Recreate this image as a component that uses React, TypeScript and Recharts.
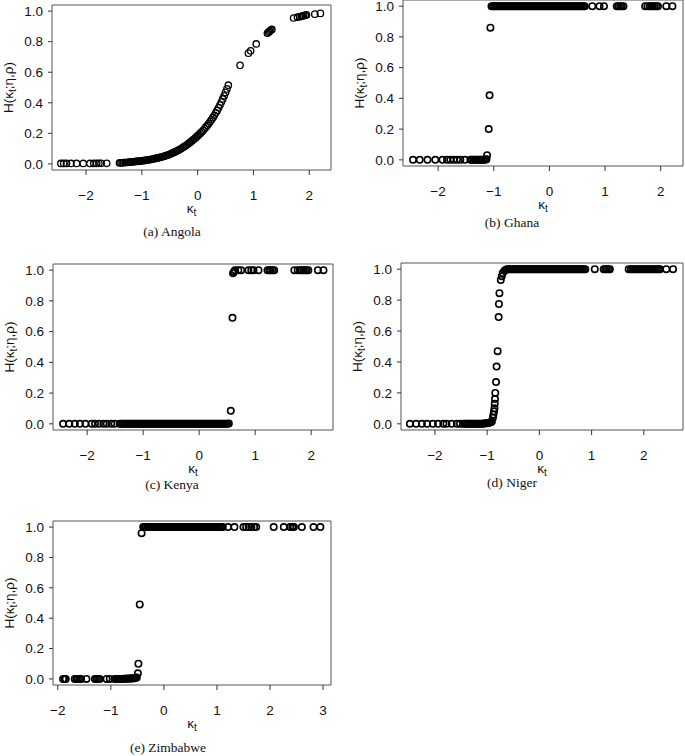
import { ScatterChart, Scatter, XAxis, YAxis, ReferenceArea } from "recharts";

// kappa_t (x) and H(kappa_t; eta, rho) (y) for each country.
// Each K line has a matching H line with the same number of values.

const angolaK = [
  -2.45, -2.4, -2.35, -2.27, -2.17, -2.05, -1.93, -1.86, -1.81, -1.77, -1.73, -1.63,
  -1.4, -1.375, -1.35, -1.325, -1.3, -1.275, -1.25, -1.225, -1.2, -1.175,
  -1.15, -1.125, -1.1, -1.075, -1.05, -1.025, -1.0, -0.975, -0.95, -0.925,
  -0.9, -0.875, -0.85, -0.825, -0.8, -0.775, -0.75, -0.725, -0.7, -0.675,
  -0.65, -0.625, -0.6, -0.575, -0.55, -0.525, -0.5, -0.475, -0.45, -0.425,
  -0.4, -0.375, -0.35, -0.325, -0.3, -0.275, -0.25, -0.225, -0.2, -0.175,
  -0.15, -0.125, -0.1, -0.075, -0.05, -0.025, 0, 0.025, 0.05, 0.075,
  0.1, 0.125, 0.15, 0.175, 0.2, 0.225, 0.25, 0.275, 0.3, 0.325,
  0.35, 0.375, 0.4, 0.425, 0.45, 0.475, 0.5, 0.525, 0.55,
  0.76, 0.91, 0.95, 1.05, 1.25, 1.27, 1.29, 1.31, 1.33,
  1.72, 1.79, 1.83, 1.86, 1.88, 1.9, 1.93, 1.95, 2.1, 2.2,
];
const angolaH = [
  0.003, 0.003, 0.003, 0.003, 0.003, 0.003, 0.003, 0.003, 0.004, 0.004, 0.004, 0.004,
  0.006, 0.007, 0.007, 0.008, 0.009, 0.009, 0.01, 0.011, 0.012, 0.013,
  0.014, 0.015, 0.016, 0.017, 0.018, 0.019, 0.02, 0.021, 0.022, 0.024,
  0.025, 0.027, 0.028, 0.03, 0.032, 0.034, 0.036, 0.038, 0.04, 0.042,
  0.045, 0.047, 0.05, 0.053, 0.056, 0.059, 0.063, 0.067, 0.071, 0.075,
  0.079, 0.084, 0.089, 0.094, 0.099, 0.105, 0.111, 0.117, 0.123, 0.13,
  0.137, 0.144, 0.152, 0.159, 0.167, 0.175, 0.183, 0.192, 0.201, 0.21,
  0.22, 0.231, 0.242, 0.253, 0.264, 0.277, 0.29, 0.304, 0.318, 0.334,
  0.35, 0.367, 0.385, 0.405, 0.425, 0.446, 0.468, 0.491, 0.515,
  0.645, 0.725, 0.74, 0.785, 0.855, 0.862, 0.868, 0.874, 0.88,
  0.955, 0.96, 0.963, 0.966, 0.968, 0.97, 0.973, 0.975, 0.98, 0.985,
];

const ghanaK = [
  -2.45, -2.33, -2.19, -2.05, -1.92, -1.84, -1.78, -1.72, -1.66, -1.6, -1.52,
  -1.42, -1.395, -1.37, -1.345, -1.32, -1.295, -1.27, -1.245, -1.22, -1.195, -1.17, -1.145, -1.13,
  -1.12, -1.09, -1.075, -1.06,
  -1.04, -1.015, -0.99, -0.965, -0.94, -0.915, -0.89, -0.865, -0.84, -0.815, -0.79, -0.765, -0.74, -0.715, -0.69, -0.665, -0.64,
  -0.615, -0.59, -0.565, -0.54, -0.515, -0.49, -0.465, -0.44, -0.415, -0.39, -0.365, -0.34, -0.315, -0.29, -0.265, -0.24, -0.215,
  -0.19, -0.165, -0.14, -0.115, -0.09, -0.065, -0.04, -0.015, 0.01, 0.035, 0.06, 0.085, 0.11, 0.135, 0.16, 0.185, 0.21,
  0.235, 0.26, 0.285, 0.31, 0.335, 0.36, 0.385, 0.41, 0.435, 0.46, 0.485, 0.51, 0.535, 0.56, 0.585, 0.61, 0.635,
  0.77, 0.9, 0.98, 1.21, 1.24, 1.27, 1.3, 1.33,
  1.72, 1.76, 1.8, 1.83, 1.86, 1.89, 1.92, 1.95, 2.1, 2.21,
];
const ghanaH = [
  0, 0, 0, 0, 0, 0, 0, 0, 0, 0, 0,
  0, 0, 0, 0, 0, 0, 0, 0, 0, 0, 0, 0.002, 0.004,
  0.03, 0.2, 0.42, 0.86,
  1, 1, 1, 1, 1, 1, 1, 1, 1, 1, 1, 1, 1, 1, 1, 1, 1,
  1, 1, 1, 1, 1, 1, 1, 1, 1, 1, 1, 1, 1, 1, 1, 1, 1,
  1, 1, 1, 1, 1, 1, 1, 1, 1, 1, 1, 1, 1, 1, 1, 1, 1,
  1, 1, 1, 1, 1, 1, 1, 1, 1, 1, 1, 1, 1, 1, 1, 1, 1,
  1, 1, 1, 1, 1, 1, 1, 1,
  1, 1, 1, 1, 1, 1, 1, 1, 1, 1,
];

const kenyaK = [
  -2.43, -2.32, -2.22, -2.13, -2.03, -1.92, -1.86, -1.79, -1.71, -1.65, -1.57, -1.51,
  -1.42, -1.395, -1.37, -1.345, -1.32, -1.295, -1.27, -1.245, -1.22, -1.195, -1.17, -1.145, -1.12, -1.095, -1.07, -1.045, -1.02, -0.995, -0.97, -0.945,
  -0.92, -0.895, -0.87, -0.845, -0.82, -0.795, -0.77, -0.745, -0.72, -0.695, -0.67, -0.645, -0.62, -0.595, -0.57, -0.545, -0.52, -0.495, -0.47, -0.445,
  -0.42, -0.395, -0.37, -0.345, -0.32, -0.295, -0.27, -0.245, -0.22, -0.195, -0.17, -0.145, -0.12, -0.095, -0.07, -0.045, -0.02, 0.005, 0.03, 0.055,
  0.08, 0.105, 0.13, 0.155, 0.18, 0.205, 0.23, 0.255, 0.28, 0.305, 0.33, 0.355, 0.38, 0.405, 0.43, 0.455, 0.48, 0.505, 0.53,
  0.565, 0.595, 0.605, 0.62,
  0.64, 0.7, 0.75, 0.88, 0.93, 0.97, 1.06, 1.22, 1.25, 1.28, 1.31, 1.34,
  1.7, 1.76, 1.8, 1.83, 1.86, 1.89, 1.92, 1.95, 2.12, 2.22,
];
const kenyaH = [
  0, 0, 0, 0, 0, 0, 0, 0, 0, 0, 0, 0,
  0, 0, 0, 0, 0, 0, 0, 0, 0, 0, 0, 0, 0, 0, 0, 0, 0, 0, 0, 0,
  0, 0, 0, 0, 0, 0, 0, 0, 0, 0, 0, 0, 0, 0, 0, 0, 0, 0, 0, 0,
  0, 0, 0, 0, 0, 0, 0, 0, 0, 0, 0, 0, 0, 0, 0, 0, 0, 0, 0, 0,
  0, 0, 0, 0, 0, 0, 0, 0, 0, 0, 0, 0, 0, 0, 0, 0, 0, 0.001, 0.002,
  0.085, 0.69, 0.98, 0.99,
  1, 1, 1, 1, 1, 1, 1, 1, 1, 1, 1, 1,
  1, 1, 1, 1, 1, 1, 1, 1, 1, 1,
];

const nigerK = [
  -2.48, -2.36, -2.25, -2.15, -2.04, -1.94, -1.84, -1.78, -1.68, -1.58, -1.52,
  -1.46, -1.435, -1.41, -1.385, -1.36, -1.335, -1.31, -1.285, -1.26, -1.235, -1.21, -1.185, -1.16, -1.135, -1.11,
  -1.085, -1.06, -1.035, -1.01, -0.985, -0.96, -0.935,
  -0.91, -0.89, -0.88, -0.87, -0.86, -0.855, -0.85, -0.845, -0.83, -0.82,
  -0.8, -0.78, -0.775, -0.765, -0.74, -0.72, -0.7, -0.67, -0.64,
  -0.62, -0.595, -0.57, -0.545, -0.52, -0.495, -0.47, -0.445, -0.42, -0.395, -0.37, -0.345, -0.32, -0.295, -0.27, -0.245,
  -0.22, -0.195, -0.17, -0.145, -0.12, -0.095, -0.07, -0.045, -0.02, 0.005, 0.03, 0.055, 0.08, 0.105, 0.13, 0.155,
  0.18, 0.205, 0.23, 0.255, 0.28, 0.305, 0.33, 0.355, 0.38, 0.405, 0.43, 0.455, 0.48, 0.505, 0.53, 0.555,
  0.58, 0.605, 0.63, 0.655, 0.68, 0.705, 0.73, 0.755, 0.78, 0.805, 0.83, 0.855, 0.88,
  1.06, 1.23, 1.26, 1.29, 1.32, 1.35,
  1.71, 1.75, 1.78, 1.81, 1.84, 1.87, 1.9, 1.93, 1.96, 1.99, 2.02,
  2.05, 2.08, 2.11, 2.14, 2.17, 2.2, 2.23, 2.26, 2.29, 2.31, 2.43, 2.56,
];
const nigerH = [
  0, 0, 0, 0, 0, 0, 0, 0, 0, 0, 0,
  0, 0, 0, 0, 0, 0, 0, 0, 0, 0, 0, 0, 0, 0, 0,
  0.001, 0.002, 0.003, 0.004, 0.005, 0.007, 0.01,
  0.015, 0.04, 0.06, 0.08, 0.1, 0.13, 0.16, 0.2, 0.27, 0.37,
  0.47, 0.69, 0.775, 0.845, 0.93, 0.955, 0.975, 0.99, 0.997,
  1, 1, 1, 1, 1, 1, 1, 1, 1, 1, 1, 1, 1, 1, 1, 1,
  1, 1, 1, 1, 1, 1, 1, 1, 1, 1, 1, 1, 1, 1, 1, 1,
  1, 1, 1, 1, 1, 1, 1, 1, 1, 1, 1, 1, 1, 1, 1, 1,
  1, 1, 1, 1, 1, 1, 1, 1, 1, 1, 1, 1, 1,
  1, 1, 1, 1, 1, 1,
  1, 1, 1, 1, 1, 1, 1, 1, 1, 1, 1,
  1, 1, 1, 1, 1, 1, 1, 1, 1, 1, 1, 1, 1,
];

const zimbabweK = [
  -1.9, -1.87, -1.85, -1.68, -1.65, -1.62, -1.59, -1.56, -1.46, -1.3, -1.27, -1.24, -1.21, -1.08, -1.02,
  -0.93, -0.905, -0.88, -0.855, -0.83, -0.805, -0.78, -0.755, -0.73, -0.705, -0.68, -0.655, -0.63, -0.605, -0.58, -0.555, -0.53,
  -0.51, -0.49, -0.48, -0.455, -0.42,
  -0.39, -0.365, -0.34, -0.315, -0.29, -0.265, -0.24, -0.215, -0.19, -0.165, -0.14, -0.115, -0.09, -0.065, -0.04, -0.015,
  0.01, 0.035, 0.06, 0.085, 0.11, 0.135, 0.16, 0.185, 0.21, 0.235, 0.26, 0.285, 0.31, 0.335, 0.36, 0.385,
  0.41, 0.435, 0.46, 0.485, 0.51, 0.535, 0.56, 0.585, 0.61, 0.635, 0.66, 0.685, 0.71, 0.735, 0.76, 0.785,
  0.81, 0.835, 0.86, 0.885, 0.91, 0.935, 0.96, 0.985, 1.01, 1.035, 1.06, 1.085, 1.11,
  1.21, 1.33, 1.5, 1.55, 1.6, 1.65, 1.7, 1.74,
  2.07, 2.26, 2.38, 2.42, 2.45, 2.6, 2.82, 2.95,
];
const zimbabweH = [
  0, 0, 0, 0, 0, 0, 0, 0, 0, 0, 0, 0, 0, 0, 0,
  0, 0, 0, 0, 0, 0, 0, 0.001, 0.001, 0.001, 0.002, 0.002, 0.003, 0.003, 0.004, 0.005, 0.007,
  0.01, 0.037, 0.1, 0.49, 0.96,
  1, 1, 1, 1, 1, 1, 1, 1, 1, 1, 1, 1, 1, 1, 1, 1,
  1, 1, 1, 1, 1, 1, 1, 1, 1, 1, 1, 1, 1, 1, 1, 1,
  1, 1, 1, 1, 1, 1, 1, 1, 1, 1, 1, 1, 1, 1, 1, 1,
  1, 1, 1, 1, 1, 1, 1, 1, 1, 1, 1, 1, 1,
  1, 1, 1, 1, 1, 1, 1, 1,
  1, 1, 1, 1, 1, 1, 1, 1,
];

const yTicks = [0, 0.2, 0.4, 0.6, 0.8, 1];
const xTicks = [-2, -1, 0, 1, 2];
const xTicksZim = [-2, -1, 0, 1, 2, 3];

const SANS = "'Liberation Sans', Arial, Helvetica, sans-serif";
const SERIF = "'Liberation Serif', 'Times New Roman', serif";
const FS = 13.5;

const panels = [
  { id: "a", caption: "(a) Angola", k: angolaK, h: angolaH, box: [52, 5, 331, 170], xDomain: [-2.61, 2.39], ticks: xTicks, lw: 1.3, capX: 172, capY: 232 },
  { id: "b", caption: "(b) Ghana", k: ghanaK, h: ghanaH, box: [403, 0, 683, 166], xDomain: [-2.63, 2.4], ticks: xTicks, lw: 1.6, capX: 512, capY: 223 },
  { id: "c", caption: "(c) Kenya", k: kenyaK, h: kenyaH, box: [53, 264, 333, 430], xDomain: [-2.61, 2.39], ticks: xTicks, lw: 1.6, capX: 172, capY: 485 },
  { id: "d", caption: "(d) Niger", k: nigerK, h: nigerH, box: [401, 263, 683, 430], xDomain: [-2.65, 2.75], ticks: xTicks, lw: 1.6, capX: 512, capY: 483 },
  { id: "e", caption: "(e) Zimbabwe", k: zimbabweK, h: zimbabweH, box: [53, 521, 331, 685], xDomain: [-2.09, 3.15], ticks: xTicksZim, lw: 1.6, capX: 168, capY: 748 },
];

const fmtX = (v: number) => (v < 0 ? "\u2212" + Math.abs(v) : String(v));
const fmtY = (v: number) => v.toFixed(1);

// axis titles with a subscript t, placed from the axis viewBox
function XTitle({ viewBox }: any) {
  const { x, y, width } = viewBox;
  return (
    <text x={x + width / 2} y={y + 43} textAnchor="middle" fontFamily={SANS} fontSize={FS} fill="#111">
      κ<tspan dy={3} fontSize={10}>t</tspan>
    </text>
  );
}

function YTitle({ viewBox }: any) {
  const { x, y, width, height } = viewBox;
  const cx = x + width - 39;
  const cy = y + height / 2;
  return (
    <text transform={`translate(${cx},${cy}) rotate(-90)`} textAnchor="middle" fontFamily={SANS} fontSize={FS} fill="#111">
      H(κ<tspan dy={3} fontSize={10}>t</tspan>
      <tspan dy={-3}>;η,ρ)</tspan>
    </text>
  );
}

function Panel({ p }: { p: (typeof panels)[number] }) {
  const [L, T, R, B] = p.box;
  const yw = 62;
  const xh = 54;
  const mt = 6;
  const data = p.k.map((k, i) => ({ k, h: p.h[i] })).filter((d) => d.h !== undefined);
  return (
    <>
      <div style={{ position: "absolute", left: L - yw, top: T - mt }}>
        <ScatterChart width={R - L + yw + 3} height={B - T + mt + xh} margin={{ top: mt, right: 3, bottom: 0, left: 0 }}>
          <XAxis
            type="number"
            dataKey="k"
            domain={p.xDomain}
            ticks={p.ticks}
            interval={0}
            allowDataOverflow
            tickFormatter={fmtX}
            axisLine={false}
            tickLine={{ stroke: "#333" }}
            tickSize={5}
            tickMargin={15}
            height={xh}
            tick={{ fontFamily: SANS, fontSize: FS, fill: "#111" }}
            label={<XTitle />}
          />
          <YAxis
            type="number"
            dataKey="h"
            domain={[-0.04, 1.04]}
            ticks={yTicks}
            interval={0}
            allowDataOverflow
            tickFormatter={fmtY}
            axisLine={false}
            tickLine={{ stroke: "#333" }}
            tickSize={4}
            tickMargin={5}
            width={yw}
            tick={{ fontFamily: SANS, fontSize: FS, fill: "#111" }}
            label={<YTitle />}
          />
          <ReferenceArea x1={p.xDomain[0]} x2={p.xDomain[1]} y1={-0.04} y2={1.04} fill="none" stroke="#555" strokeWidth={1} fillOpacity={0} />
          <Scatter
            data={data}
            isAnimationActive={false}
            shape={(s: any) => <circle cx={s.cx} cy={s.cy} r={3.2} fill="none" stroke="#000" strokeWidth={p.lw} />}
          />
        </ScatterChart>
      </div>
      <div
        style={{
          position: "absolute",
          left: p.capX - 100,
          top: p.capY - 7,
          width: 200,
          textAlign: "center",
          fontFamily: SERIF,
          fontSize: 13.5,
          lineHeight: "14px",
          color: "#111",
        }}
      >
        {p.caption}
      </div>
    </>
  );
}

export default function App() {
  return (
    <div style={{ position: "absolute", left: 0, top: 0, width: 685, height: 756, background: "#fff", overflow: "hidden" }}>
      {panels.map((p) => (
        <Panel key={p.id} p={p} />
      ))}
    </div>
  );
}
